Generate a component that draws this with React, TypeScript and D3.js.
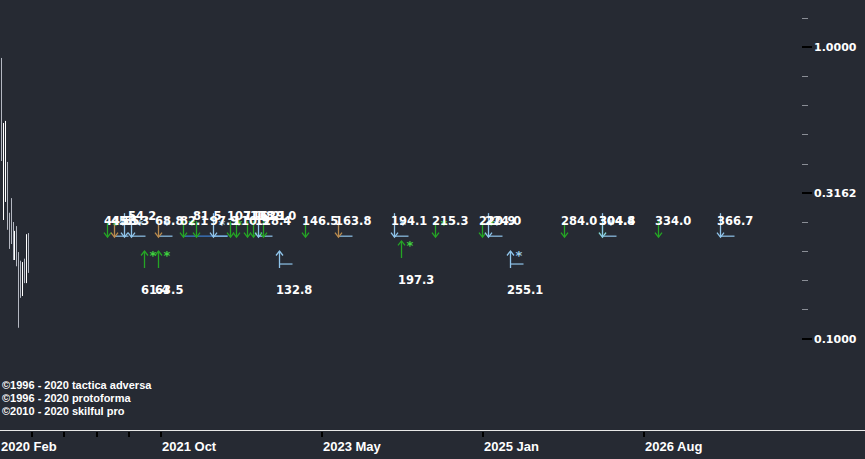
import React from "react";
import * as d3 from "d3";

const W = 865;
const H = 459;

// ---------- axes ----------
const xTickIdx = [0, 20, 40, 60, 80];
const xTickLabels = ["2020 Feb", "2021 Oct", "2023 May", "2025 Jan", "2026 Aug"];
const xMinorIdx = [4, 8, 12, 16];

const yMajorTicks = [1.0, 0.3162, 0.1];
const yMajorLabels = ["1.0000", "0.3162", "0.1000"];
const yMinorTicks = [1.2589, 0.7943, 0.631, 0.5012, 0.3981, 0.2512, 0.1995, 0.1585, 0.1259];

// ---------- price bars (index units, high, low) ----------
const barT = [0.12, 0.37, 0.62, 0.87, 1.12, 1.37, 1.62, 1.74, 1.99, 2.24, 2.48, 2.73, 2.98, 3.23, 3.48];
const barHigh = [0.915, 0.548, 0.557, 0.403, 0.27, 0.303, 0.251, 0.234, 0.243, 0.198, 0.185, 0.183, 0.188, 0.228, 0.23];
const barLow = [0.406, 0.255, 0.294, 0.236, 0.203, 0.211, 0.186, 0.186, 0.177, 0.109, 0.138, 0.14, 0.155, 0.155, 0.168];
const barBright = [false, true, true, false, false, false, false, true, false, false, false, true, false, true, false];

// ---------- signals ----------
const SELL_LEVEL = 0.2227;

type Sig = { t: number; label: string; kind: string; star?: string; line?: boolean; until?: number; tier?: number; level?: number };

const sellSignals: Sig[] = [
  { t: 13.29, label: "44.5", kind: "g", star: "g" },
  { t: 14.16, label: "45.5", kind: "t", star: "lb", line: true },
  { t: 15.4, label: "53.3", kind: "lb" },
  { t: 16.27, label: "54.2", kind: "lb", star: "lb", line: true, tier: 1 },
  { t: 19.63, label: "68.8", kind: "t", star: "lb", line: true },
  { t: 22.73, label: "82.1", kind: "g", star: "g", until: 28.3 },
  { t: 24.35, label: "81.5", kind: "g", tier: 1 },
  { t: 26.46, label: "97.9", kind: "lb", star: "lb", line: true },
  { t: 28.57, label: "107.1", kind: "g", star: "g", tier: 1 },
  { t: 29.32, label: "110.9", kind: "g" },
  { t: 30.68, label: "116.2", kind: "g", tier: 1 },
  { t: 31.43, label: "118.1", kind: "g", tier: 1 },
  { t: 32.05, label: "128.4", kind: "lb", line: true },
  { t: 32.67, label: "129.0", kind: "g", tier: 1 },
  { t: 37.89, label: "146.5", kind: "g" },
  { t: 41.99, label: "163.8", kind: "t", line: true },
  { t: 48.94, label: "194.1", kind: "lb", star: "lb", line: true },
  { t: 54.04, label: "215.3", kind: "g", star: "g" },
  { t: 59.88, label: "220.9", kind: "g", star: "g" },
  { t: 60.62, label: "224.0", kind: "lb", star: "lb", line: true },
  { t: 70.06, label: "284.0", kind: "g" },
  { t: 74.78, label: "304.4", kind: "g" },
  { t: 74.78, label: "304.8", kind: "lb", star: "lb", line: true },
  { t: 81.74, label: "334.0", kind: "g" },
  { t: 89.44, label: "366.7", kind: "lb", line: true },
];

const buySignals: Sig[] = [
  { t: 17.89, label: "61.4", kind: "g", star: "g", level: 0.1746 },
  { t: 19.63, label: "63.5", kind: "g", star: "g", level: 0.1746 },
  { t: 34.66, label: "132.8", kind: "lb", line: true, level: 0.1746 },
  { t: 49.81, label: "197.3", kind: "g", star: "g", level: 0.189 },
  { t: 63.35, label: "255.1", kind: "lb", star: "lb", line: true, level: 0.1746 },
];

const copyrights = [
  "\u00a91996 - 2020 tactica adversa",
  "\u00a91996 - 2020 protoforma",
  "\u00a92010 - 2020 skilful pro",
];

const COLORS: Record<string, string> = {
  g: "#25a525",
  lb: "#8fc4ea",
  t: "#b88a4e",
  db: "#3d7ccc",
};
const STAR_COLORS: Record<string, string> = {
  g: "#3fd03f",
  lb: "#9ccbea",
};

const LABEL_FONT = "'DejaVu Sans', sans-serif";

export default function App() {
  const x = d3.scaleLinear().domain([0, 100]).range([0, 805]);
  const y = d3.scaleLog().domain([1, 0.1]).range([46.7, 338.7]);
  const axisY = 430;

  return (
    <svg
      width={W}
      height={H}
      style={{ position: "fixed", left: 0, top: 0, display: "block" }}
    >
      <rect x={0} y={0} width={W} height={H} fill="#262a33" />

      {/* price bars */}
      {barT.map((t, i) => {
        const px = Math.round(x(t)) + 0.5;
        return (
          <line
            key={"b" + i}
            x1={px}
            x2={px}
            y1={y(barHigh[i])}
            y2={y(barLow[i])}
            stroke={barBright[i] ? "#ffffff" : "#b4b8c2"}
            strokeWidth={1}
          />
        );
      })}

      {/* sell signals: lines */}
      {sellSignals.map((s, i) => {
        const px = Math.round(x(s.t)) + 0.5;
        const tip = y(SELL_LEVEL);
        return (
          <g key={"sl" + i}>
            {s.until !== undefined && (
              <line x1={px} x2={x(s.until)} y1={tip - 1} y2={tip - 1} stroke={COLORS.db} strokeWidth={1.2} />
            )}
            {s.line && (
              <line x1={px} x2={px + 14} y1={tip - 1} y2={tip - 1} stroke={COLORS.lb} strokeWidth={1.2} />
            )}
          </g>
        );
      })}
      {buySignals.map((s, i) => {
        const px = Math.round(x(s.t)) + 0.5;
        const base = y(s.level as number);
        return s.line ? (
          <line key={"bl" + i} x1={px} x2={px + 13} y1={base - 4} y2={base - 4} stroke={COLORS.lb} strokeWidth={1.2} />
        ) : null;
      })}

      {/* sell arrows */}
      {sellSignals.map((s, i) => {
        const px = Math.round(x(s.t)) + 0.5;
        const tip = y(SELL_LEVEL);
        const len = s.kind === "lb" ? 24 : 16;
        const c = COLORS[s.kind];
        return (
          <g key={"sa" + i}>
            <line x1={px} x2={px} y1={tip - len} y2={tip} stroke={c} strokeWidth={1.3} />
            <path d={`M${px - 3.5},${tip - 4.5} L${px},${tip} L${px + 3.5},${tip - 4.5}`} fill="none" stroke={c} strokeWidth={1.3} />
          </g>
        );
      })}

      {/* buy arrows */}
      {buySignals.map((s, i) => {
        const px = Math.round(x(s.t)) + 0.5;
        const base = y(s.level as number);
        const top = base - 17;
        const c = COLORS[s.kind];
        return (
          <g key={"ba" + i}>
            <line x1={px} x2={px} y1={top} y2={base} stroke={c} strokeWidth={1.3} />
            <path d={`M${px - 3.5},${top + 4.5} L${px},${top} L${px + 3.5},${top + 4.5}`} fill="none" stroke={c} strokeWidth={1.3} />
          </g>
        );
      })}

      {/* stars */}
      {sellSignals.map((s, i) =>
        s.star ? (
          <text
            key={"ss" + i}
            x={x(s.t) + 9}
            y={y(SELL_LEVEL) - 8}
            fill={STAR_COLORS[s.star]}
            fontFamily={LABEL_FONT}
            fontWeight="bold"
            fontSize={13}
            textAnchor="middle"
          >
            *
          </text>
        ) : null
      )}
      {buySignals.map((s, i) =>
        s.star ? (
          <text
            key={"bs" + i}
            x={x(s.t) + 9}
            y={y(s.level as number) - 8}
            fill={STAR_COLORS[s.star]}
            fontFamily={LABEL_FONT}
            fontWeight="bold"
            fontSize={13}
            textAnchor="middle"
          >
            *
          </text>
        ) : null
      )}

      {/* labels */}
      {sellSignals.map((s, i) => (
        <text
          key={"st" + i}
          x={x(s.t) - 3}
          y={y(SELL_LEVEL) - (s.tier ? 17 : 12)}
          fill="#ffffff"
          fontFamily={LABEL_FONT}
          fontWeight="bold"
          fontSize={11.5}
        >
          {s.label}
        </text>
      ))}
      {buySignals.map((s, i) => (
        <text
          key={"bt" + i}
          x={x(s.t) - 3}
          y={y(s.level as number) + 26}
          fill="#ffffff"
          fontFamily={LABEL_FONT}
          fontWeight="bold"
          fontSize={11.5}
        >
          {s.label}
        </text>
      ))}

      {/* y axis */}
      {yMinorTicks.map((v, i) => (
        <line key={"ym" + i} x1={802} x2={808} y1={Math.round(y(v)) + 0.5} y2={Math.round(y(v)) + 0.5} stroke="#8a8e96" strokeWidth={1} />
      ))}
      {yMajorTicks.map((v, i) => (
        <g key={"yM" + i}>
          <line x1={802} x2={812} y1={Math.round(y(v))} y2={Math.round(y(v))} stroke="#000000" strokeWidth={2} />
          <text
            x={814}
            y={y(v) + 4}
            fill="#ffffff"
            fontFamily={LABEL_FONT}
            fontWeight="bold"
            fontSize={11}
          >
            {yMajorLabels[i]}
          </text>
        </g>
      ))}

      {/* x axis */}
      <line x1={0} x2={W} y1={axisY + 0.5} y2={axisY + 0.5} stroke="#e8e8e8" strokeWidth={1} />
      {xMinorIdx.concat(xTickIdx.slice(1)).map((t, i) => (
        <line key={"xt" + i} x1={Math.round(x(t))} x2={Math.round(x(t))} y1={axisY + 2} y2={axisY + 7} stroke="#000000" strokeWidth={2} />
      ))}
      {xTickIdx.map((t, i) => (
        <text
          key={"xl" + i}
          x={x(t) + 1}
          y={axisY + 21}
          fill="#ffffff"
          fontFamily="'Liberation Sans', Arial, sans-serif"
          fontWeight="bold"
          fontSize={13}
        >
          {xTickLabels[i]}
        </text>
      ))}

      {/* copyright */}
      {copyrights.map((c, i) => (
        <text
          key={"c" + i}
          x={2}
          y={389 + i * 13}
          fill="#ffffff"
          fontFamily="'Liberation Sans', Arial, sans-serif"
          fontWeight="bold"
          fontSize={11}
        >
          {c}
        </text>
      ))}
    </svg>
  );
}
